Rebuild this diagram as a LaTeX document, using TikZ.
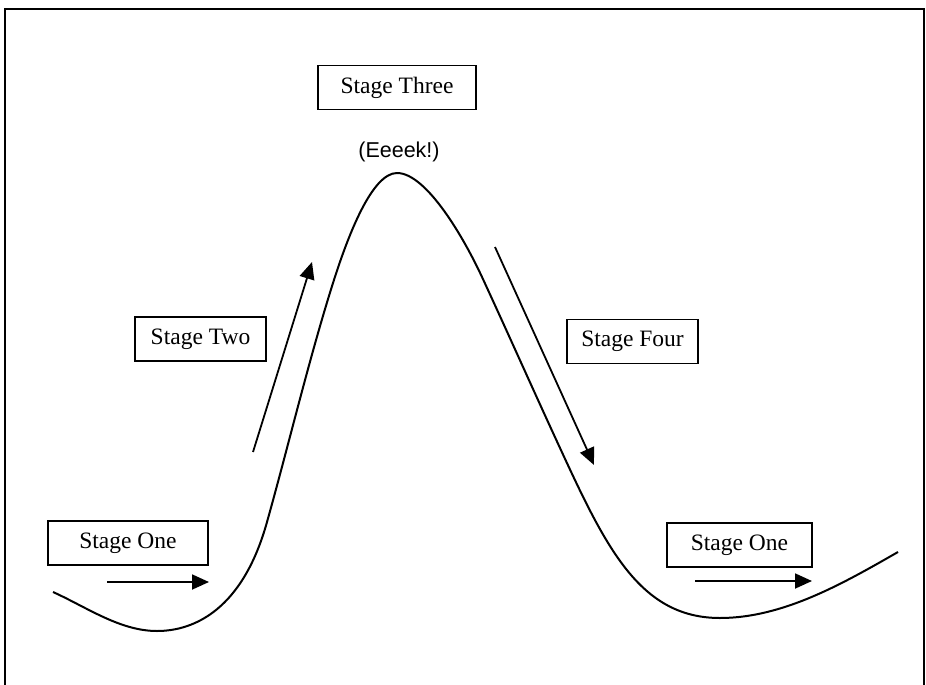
\documentclass[tikz,border=0pt]{standalone}
\usepackage{fontspec}
\setmainfont{Liberation Serif}
\newfontfamily\eeekFont{Liberation Sans}
\usepackage{tikz}
\usetikzlibrary{positioning, arrows.meta}
\definecolor{inkColor}{RGB}{0, 0, 0}
\tikzset{
    stage_box/.style={
        draw=inkColor,
        line width=1.8pt,
        text=inkColor,
        inner sep=0pt,
        minimum height=44pt,
        font=\fontsize{23.5}{27}\selectfont
    },
    stage_arrow/.style={
        -{Triangle[length=17pt,width=15pt]},
        line width=1.8pt,
        draw=inkColor
    },
    track_line/.style={
        line width=2pt,
        draw=inkColor,
        line join=round
    }
}

\begin{document}
\begin{tikzpicture}[x=1pt, y=-1pt]
        \useasboundingbox (0,0) rectangle (926,685);

        % frame, cut off at the bottom
        \draw[line width=2pt] (5,685) |- (924,9) -- (924,685);

        % the ride
        \draw[track_line] (53,592)
            .. controls (86.7,607.2) and (120,631) .. (157,631)
            .. controls (195,631) and (242.9,608.7) .. (267,522)
            .. controls (288.6,445) and (309,359) .. (333,283)
            .. controls (348,235.5) and (372,173) .. (397,173)
            .. controls (427,173) and (465.2,240.6) .. (482,277)
            .. controls (508.5,334.3) and (533.5,390.7) .. (560,448)
            .. controls (606.2,548.1) and (640,618) .. (720,618)
            .. controls (783,618) and (843,583.5) .. (898,552);

        \node[stage_box, minimum width=158pt] (three) at (397,87.5) {Stage Three};
        \node[font=\eeekFont\fontsize{21.5}{25}\selectfont] (eeek) at (399,152) {(Eeeek!)};
        \node[stage_box, minimum width=131pt] (two) at (200.5,339) {Stage Two};
        \node[stage_box, minimum width=131pt] (four) at (632.5,341.5) {Stage Four};
        \node[stage_box, minimum width=160pt] (oneL) at (128,543) {Stage One};
        \node[stage_box, minimum width=145pt] (oneR) at (739.5,545) {Stage One};

        \coordinate (oneLa) at (107,582);
        \coordinate (oneLb) at (209,582);
        \coordinate (twoa) at (253,452);
        \coordinate (twob) at (312,262);
        \coordinate (foura) at (495,247);
        \coordinate (fourb) at (594,465);
        \coordinate (oneRa) at (695,581);
        \coordinate (oneRb) at (812,581);

        \draw[stage_arrow] (oneLa) -- (oneLb);
        \draw[stage_arrow] (twoa) -- (twob);
        \draw[stage_arrow] (foura) -- (fourb);
        \draw[stage_arrow] (oneRa) -- (oneRb);
    \end{tikzpicture}
\end{document}
